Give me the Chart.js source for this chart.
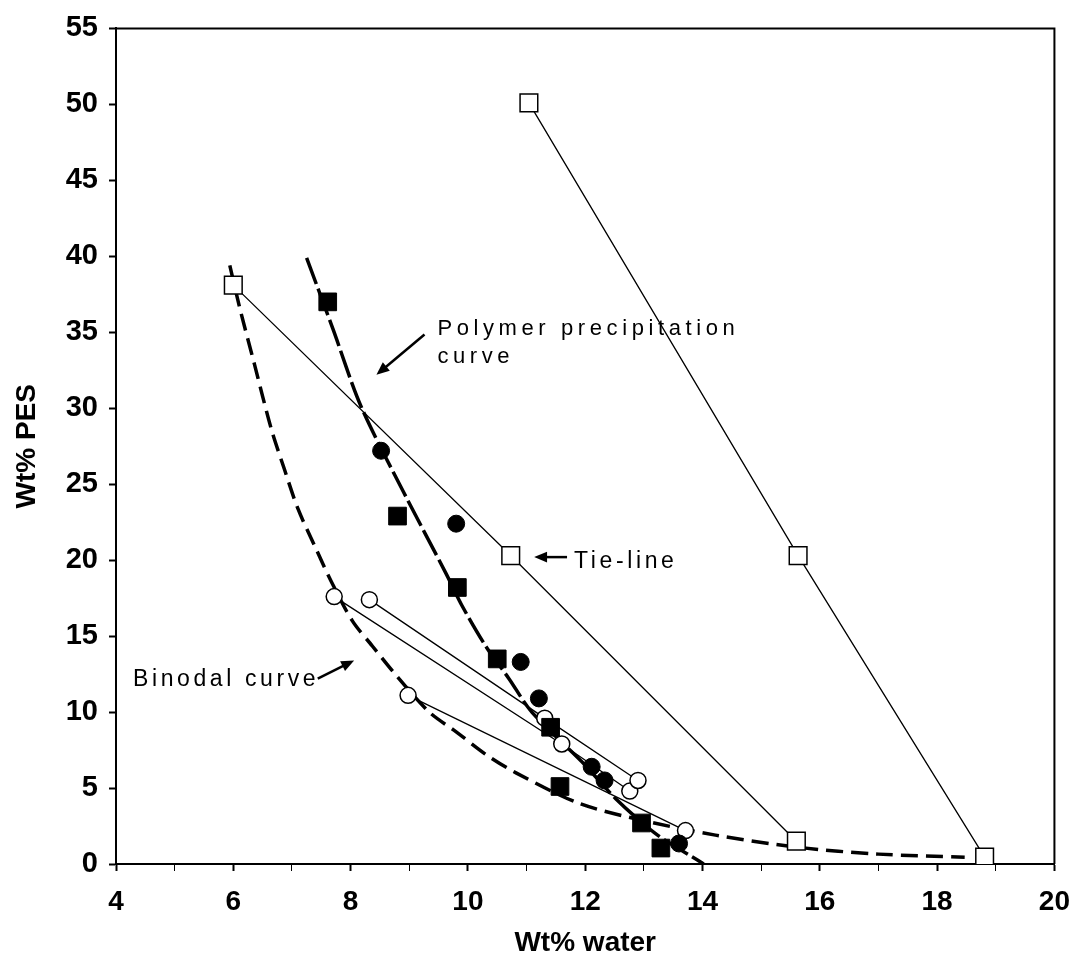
<!DOCTYPE html>
<html>
<head>
<meta charset="utf-8">
<script src="https://cdn.jsdelivr.net/npm/chart.js@4.4.1/dist/chart.umd.min.js"></script>
<style>
  html, body { margin: 0; padding: 0; background: #fff; }
  canvas { display: block; }
</style>
</head>
<body>
<canvas id="grafico" width="1084" height="965"></canvas>
<script>
// Datos (x = Wt% water, y = Wt% PES)

// Tie-lines con cuadrados abiertos
const tieAx = [6.0, 10.73, 15.6];
const tieAy = [38.1, 20.3, 1.5];
const tieBx = [11.04, 15.63, 18.81];
const tieBy = [50.1, 20.3, 0.45];

// Tie-lines con circulos abiertos
const tieC1x = [8.32, 11.31, 12.9];
const tieC1y = [17.4, 9.6, 5.5];
const tieC2x = [7.72, 11.6, 12.76];
const tieC2y = [17.6, 7.9, 4.8];
const tieC3x = [8.98, 13.71];
const tieC3y = [11.1, 2.2];

// Puntos llenos
const cuadLlenoX = [7.61, 8.8, 9.82, 10.5, 11.41, 11.57, 12.96, 13.29];
const cuadLlenoY = [37.0, 22.9, 18.2, 13.5, 9.0, 5.1, 2.7, 1.05];
const circLlenoX = [8.52, 9.8, 10.9, 11.21, 12.11, 12.33, 13.6];
const circLlenoY = [27.2, 22.4, 13.3, 10.9, 6.4, 5.5, 1.35];

// Curva binodal (discontinua)
const binodalX = [5.94, 6.11, 6.36, 6.65, 6.87, 7.1, 7.38, 7.67, 8.03, 8.37, 8.78, 9.34, 9.8, 10.31, 10.82, 11.89, 13.0, 14.22, 15.63, 17.0, 18.47];
const binodalY = [39.4, 36.6, 32.9, 28.6, 26.0, 23.4, 21.0, 18.6, 16.0, 14.35, 12.4, 10.0, 8.7, 7.2, 6.0, 4.0, 2.85, 1.9, 1.1, 0.65, 0.45];

// Curva de precipitacion del polimero
const precipX = [7.25, 7.7, 8.18, 8.9, 9.63, 9.9, 10.31, 10.7, 11.09, 12.0, 12.52, 13.2, 14.02];
const precipY = [39.9, 35.2, 30.1, 24.5, 19.1, 17.0, 14.3, 12.2, 10.0, 6.5, 4.3, 2.0, 0.0];

// Ejes
const xTicks = [4, 20, 1];
const yTicks = [0, 55, 5];

function pares(xs, ys) {
    return xs.map((x, i) => ({ x: x, y: ys[i] }));
}

const FUENTE = '"Liberation Sans", Arial, Helvetica, sans-serif';

function lineaTie(xs, ys, estilo) {
    return {
        data: pares(xs, ys),
        showLine: true,
        borderColor: '#000',
        borderWidth: 1.3,
        pointStyle: estilo,
        pointRadius: estilo === 'rect' ? 12.5 : 8,
        pointBackgroundColor: '#fff',
        pointBorderColor: '#000',
        pointBorderWidth: 1.5,
        order: 3
    };
}

// Plugin: marco superior/derecho, flechas y textos
const anotaciones = {
    id: 'anotaciones',
    afterDraw(chart) {
        const ctx = chart.ctx;
        const xs = chart.scales.x, ys = chart.scales.y;
        const a = chart.chartArea;
        ctx.save();
        ctx.strokeStyle = '#000';
        ctx.lineWidth = 2;
        ctx.beginPath();
        ctx.moveTo(a.left, a.top);
        ctx.lineTo(a.right, a.top);
        ctx.lineTo(a.right, a.bottom);
        ctx.stroke();

        const px = v => xs.getPixelForValue(v);
        const py = v => ys.getPixelForValue(v);

        function flecha(x1, y1, x2, y2) {
            const X1 = px(x1), Y1 = py(y1), X2 = px(x2), Y2 = py(y2);
            const ang = Math.atan2(Y2 - Y1, X2 - X1);
            ctx.lineWidth = 2.5;
            ctx.beginPath();
            ctx.moveTo(X1, Y1);
            ctx.lineTo(X2 - 6 * Math.cos(ang), Y2 - 6 * Math.sin(ang));
            ctx.stroke();
            ctx.beginPath();
            ctx.moveTo(X2, Y2);
            ctx.lineTo(X2 - 14 * Math.cos(ang - 0.4), Y2 - 14 * Math.sin(ang - 0.4));
            ctx.lineTo(X2 - 14 * Math.cos(ang + 0.4), Y2 - 14 * Math.sin(ang + 0.4));
            ctx.closePath();
            ctx.fillStyle = '#000';
            ctx.fill();
        }

        flecha(9.26, 34.85, 8.44, 32.2);
        flecha(11.69, 20.2, 11.13, 20.2);
        flecha(7.44, 12.2, 8.06, 13.4);

        ctx.fillStyle = '#000';
        ctx.textAlign = 'left';
        ctx.textBaseline = 'alphabetic';
        ctx.font = '22px ' + FUENTE;
        ctx.letterSpacing = '4.6px';
        ctx.fillText('Polymer precipitation', px(9.48), py(34.8));
        ctx.fillText('curve', px(9.48), py(33.0));
        ctx.font = '23px ' + FUENTE;
        ctx.letterSpacing = '3.6px';
        ctx.fillText('Tie-line', px(11.81), py(19.5));
        ctx.fillText('Binodal curve', px(4.29), py(11.7));
        ctx.restore();
    }
};

const datos = {
    datasets: [
        {
            data: pares(cuadLlenoX, cuadLlenoY),
            showLine: false,
            pointStyle: 'rect',
            pointRadius: 12.5,
            pointBackgroundColor: '#000',
            pointBorderColor: '#000',
            order: 1
        },
        {
            data: pares(circLlenoX, circLlenoY),
            showLine: false,
            pointStyle: 'circle',
            pointRadius: 8.5,
            pointBackgroundColor: '#000',
            pointBorderColor: '#000',
            order: 1
        },
        lineaTie(tieAx, tieAy, 'rect'),
        lineaTie(tieBx, tieBy, 'rect'),
        lineaTie(tieC1x, tieC1y, 'circle'),
        lineaTie(tieC2x, tieC2y, 'circle'),
        lineaTie(tieC3x, tieC3y, 'circle'),
        {
            data: pares(binodalX, binodalY),
            showLine: true,
            borderColor: '#000',
            borderWidth: 3.5,
            borderDash: [17, 8],
            tension: 0.3,
            pointRadius: 0,
            order: 5
        },
        {
            data: pares(precipX, precipY),
            showLine: true,
            borderColor: '#000',
            borderWidth: 3.5,
            borderDash: [28, 5],
            tension: 0.3,
            pointRadius: 0,
            order: 5
        }
    ]
};

const opciones = {
    responsive: false,
    animation: false,
    layout: { padding: { left: 0, right: 27, top: 17, bottom: 0 } },
    plugins: { legend: { display: false }, tooltip: { enabled: false } },
    scales: {
        x: {
            type: 'linear',
            min: xTicks[0],
            max: xTicks[1],
            afterFit: s => { s.height = 101; },
            border: { display: true, color: '#000', width: 2 },
            grid: {
                drawOnChartArea: false,
                drawTicks: true,
                tickLength: 7,
                tickColor: '#000',
                tickWidth: c => (c.tick && c.tick.value % 2 === 0) ? 2 : 1
            },
            ticks: {
                stepSize: xTicks[2],
                color: '#000',
                padding: 14,
                maxRotation: 0,
                autoSkip: false,
                font: { family: FUENTE, size: 28, weight: 'bold' },
                callback: v => (v % 2 === 0 ? v : '')
            },
            title: {
                display: true,
                text: 'Wt% water',
                color: '#000',
                font: { family: FUENTE, size: 28, weight: 'bold' },
                padding: { top: 0, bottom: 5 }
            }
        },
        y: {
            type: 'linear',
            min: yTicks[0],
            max: yTicks[1],
            afterFit: s => { s.width = 116; },
            border: { display: true, color: '#000', width: 2 },
            grid: {
                drawOnChartArea: false,
                drawTicks: true,
                tickLength: 7,
                tickColor: '#000',
                tickWidth: 2
            },
            ticks: {
                stepSize: yTicks[2],
                color: '#000',
                padding: 11,
                font: { family: FUENTE, size: 29, weight: 'bold' }
            },
            title: {
                display: true,
                text: 'Wt% PES',
                color: '#000',
                font: { family: FUENTE, size: 28, weight: 'bold' },
                padding: { top: 10, bottom: 0 }
            }
        }
    }
};

new Chart(document.getElementById('grafico'), {
    type: 'scatter',
    data: datos,
    options: opciones,
    plugins: [anotaciones]
});
</script>
</body>
</html>
